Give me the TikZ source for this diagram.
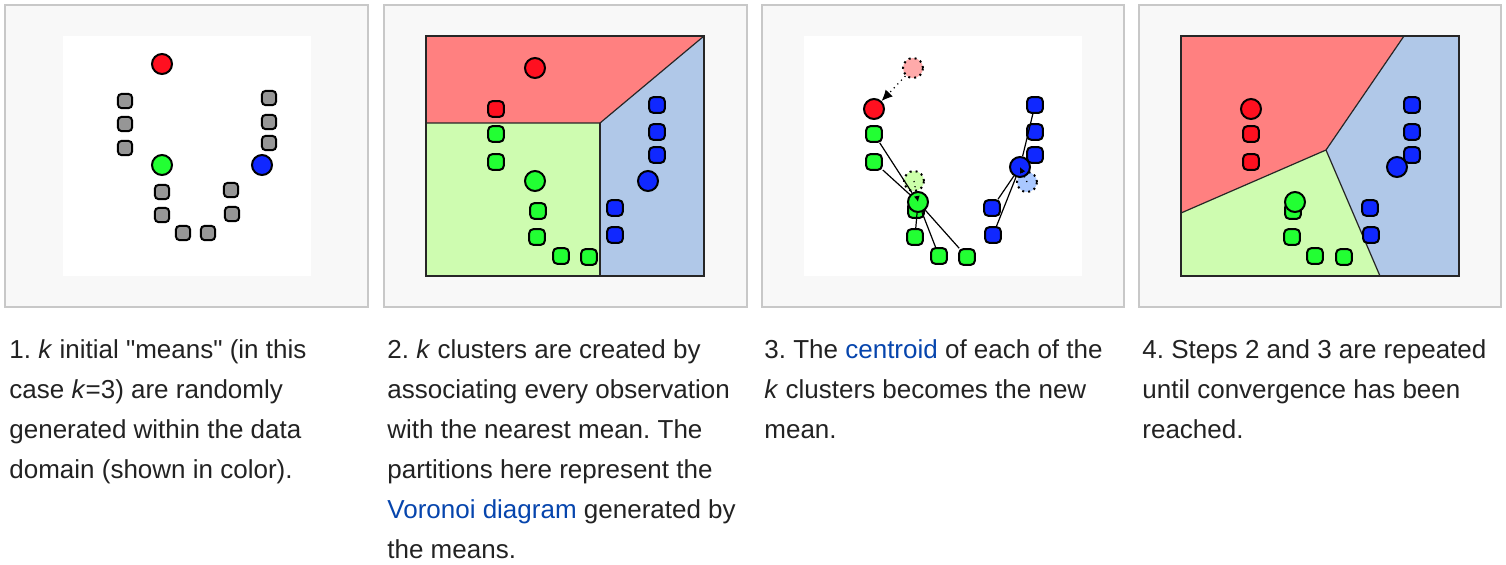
\documentclass[tikz,border=0pt]{standalone}
\usepackage{fontspec}
\setmainfont{Liberation Sans}
\usetikzlibrary{
    arrows.meta,
    positioning
}
\frenchspacing

\definecolor{framebg}{HTML}{F8F8F8}
\definecolor{framegray}{HTML}{C8C8C8}
\definecolor{regred}{HTML}{FF8080}
\definecolor{reggreen}{HTML}{CEFCB0}
\definecolor{regblue}{HTML}{B0C8E8}
\definecolor{ptred}{HTML}{FF1020}
\definecolor{ptgreen}{HTML}{22FF33}
\definecolor{ptblue}{HTML}{1028FF}
\definecolor{ptgray}{HTML}{969696}
\definecolor{oldred}{HTML}{FFAAAA}
\definecolor{oldgreen}{HTML}{CCFFAA}
\definecolor{oldblue}{HTML}{AAC8FF}
\definecolor{captext}{HTML}{222222}
\definecolor{linkblue}{HTML}{0645AD}

\begin{document}
\begin{tikzpicture}[
    x=0.5pt,
    y=-0.5pt,
    frame/.style={
        draw=framegray,
        fill=framebg,
        line width=0.75pt
    },
    region/.style={
        draw=black!85,
        line width=0.6pt
    },
    mean/.style={
        circle,
        draw=black,
        line width=1pt,
        minimum size=10pt,
        inner sep=0pt
    },
    obs/.style={
        rectangle,
        rounded corners=2pt,
        draw=black,
        line width=1pt,
        minimum size=7.8pt,
        inner sep=0pt
    },
    oldmean/.style={
        circle,
        draw=black,
        dotted,
        line width=1pt,
        minimum size=10pt,
        inner sep=0pt
    },
    move/.style={
        draw=black,
        dotted,
        line width=0.6pt,
        -{Latex[length=5.5pt,width=5pt]}
    },
    link/.style={
        draw=black,
        line width=0.6pt
    },
    caption/.style={
        anchor=north west,
        inner sep=0pt,
        align=left,
        text=captext,
        font=\fontsize{13pt}{20pt}\selectfont
    }
]

    \useasboundingbox (0,0) rectangle (1506,564);

    % -------------------------------------------------------
    % Frames and canvases
    % -------------------------------------------------------
    \draw[frame] (5,5) rectangle (368,307);
    \draw[frame] (384,5) rectangle (747,307);
    \draw[frame] (762,5) rectangle (1124,307);
    \draw[frame] (1139,5) rectangle (1501,307);

    \fill[white] (63,36) rectangle (311,276);
    \fill[white] (804,36) rectangle (1082,276);

    % -------------------------------------------------------
    % Panel 1: initial means
    % -------------------------------------------------------
    \foreach \px/\py [count=\i] in {125/101, 125/124, 125/148,
        269/98, 269/122, 269/143, 162/192, 162/215,
        183/233, 208/233, 231/190, 232/214}
        \node[obs, fill=ptgray, minimum size=7.2pt] (p1-\i) at (\px,\py) {};

    \node[mean, fill=ptred] (m1r) at (162,64) {};
    \node[mean, fill=ptgreen] (m1g) at (162,165) {};
    \node[mean, fill=ptblue] (m1b) at (262,165) {};

    % -------------------------------------------------------
    % Panel 2: assignment to nearest mean
    % -------------------------------------------------------
    \coordinate (v2) at (600,123);

    \fill[regred] (426,36) -- (704,36) -- (v2) -- (426,123) -- cycle;
    \fill[reggreen] (426,123) -- (v2) -- (600,276) -- (426,276) -- cycle;
    \fill[regblue] (v2) -- (704,36) -- (704,276) -- (600,276) -- cycle;

    \draw[region] (426,123) -- (v2) -- (704,36);
    \draw[region] (v2) -- (600,276);
    \draw[region] (426,36) rectangle (704,276);

    \node[obs, fill=ptred] (r2-1) at (496,109) {};

    \foreach \px/\py [count=\i] in {496/134, 496/162, 538/211,
        537/237, 561/256, 589/257}
        \node[obs, fill=ptgreen] (g2-\i) at (\px,\py) {};

    \foreach \px/\py [count=\i] in {657/105, 657/132, 657/155,
        615/208, 615/235}
        \node[obs, fill=ptblue] (b2-\i) at (\px,\py) {};

    \node[mean, fill=ptred] (m2r) at (535,68) {};
    \node[mean, fill=ptgreen] (m2g) at (535,181) {};
    \node[mean, fill=ptblue] (m2b) at (648,181) {};

    % -------------------------------------------------------
    % Panel 3: centroids become the new means
    % -------------------------------------------------------
    \foreach \px/\py [count=\i] in {874/134, 874/162, 916/210,
        915/237, 939/256, 967/257}
        \node[obs, fill=ptgreen] (g3-\i) at (\px,\py) {};

    \foreach \px/\py [count=\i] in {1035/105, 1035/132, 1035/155,
        992/208, 993/235}
        \node[obs, fill=ptblue] (b3-\i) at (\px,\py) {};

    \node[oldmean, fill=oldred] (o3r) at (913,68) {};
    \node[oldmean, fill=oldgreen] (o3g) at (914,181) {};
    \node[oldmean, fill=oldblue] (o3b) at (1027,182) {};

    \node[mean, fill=ptred] (m3r) at (874,109) {};
    \node[mean, fill=ptgreen] (m3g) at (918,202) {};
    \node[mean, fill=ptblue] (m3b) at (1020,167) {};

    \foreach \i in {1,2,4,5,6}
        \draw[link] (g3-\i) -- (m3g);
    \foreach \i in {1,4,5}
        \draw[link] (b3-\i) -- (m3b);

    \draw[move] (o3r) -- (m3r);
    \draw[move, -{Latex[length=3pt,width=3pt]}]
        (o3g.center) -- (m3g.center);
    \draw[move, -{Latex[length=3pt,width=3pt]}]
        (o3b.center) -- (m3b.center);

    % -------------------------------------------------------
    % Panel 4: converged partition
    % -------------------------------------------------------
    \coordinate (v4) at (1326,150);

    \fill[regred] (1181,36) -- (1404,36) -- (v4) -- (1181,213) -- cycle;
    \fill[reggreen] (1181,213) -- (v4) -- (1380,276) -- (1181,276) -- cycle;
    \fill[regblue] (1404,36) -- (1459,36) -- (1459,276) -- (1380,276)
        -- (v4) -- cycle;

    \draw[region] (1181,213) -- (v4) -- (1404,36);
    \draw[region] (v4) -- (1380,276);
    \draw[region] (1181,36) rectangle (1459,276);

    \foreach \px/\py [count=\i] in {1251/134, 1251/162}
        \node[obs, fill=ptred] (r4-\i) at (\px,\py) {};

    \foreach \px/\py [count=\i] in {1293/211, 1292/237, 1315/256,
        1344/257}
        \node[obs, fill=ptgreen] (g4-\i) at (\px,\py) {};

    \foreach \px/\py [count=\i] in {1412/105, 1412/132, 1412/155,
        1370/208, 1371/235}
        \node[obs, fill=ptblue] (b4-\i) at (\px,\py) {};

    \node[mean, fill=ptred] (m4r) at (1251,109) {};
    \node[mean, fill=ptgreen] (m4g) at (1295,202) {};
    \node[mean, fill=ptblue] (m4b) at (1397,167) {};

    % -------------------------------------------------------
    % Captions
    % -------------------------------------------------------
    \node[caption] (cap1) at (9,339)
        {1. \textit{k} initial \textquotedbl means\textquotedbl{} (in this\\
         case \textit{k}=3) are randomly\\
         generated within the data\\
         domain (shown in color).};

    \node[caption] (cap2) at (387,339)
        {2. \textit{k} clusters are created by\\
         associating every observation\\
         with the nearest mean. The\\
         partitions here represent the\\
         \textcolor{linkblue}{Voronoi diagram} generated by\\
         the means.};

    \node[caption] (cap3) at (764,339)
        {3. The \textcolor{linkblue}{centroid} of each of the\\
         \textit{k} clusters becomes the new\\
         mean.};

    \node[caption] (cap4) at (1142,339)
        {4. Steps 2 and 3 are repeated\\
         until convergence has been\\
         reached.};

\end{tikzpicture}
\end{document}
